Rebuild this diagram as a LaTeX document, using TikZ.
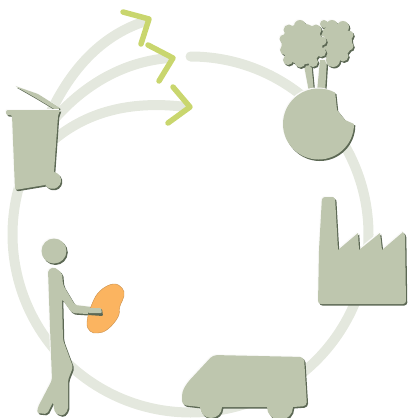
\documentclass[tikz,border=0pt]{standalone}
\usepackage{xcolor}
\usepackage{tikz}
\definecolor{softring}{RGB}{228,232,222}
\definecolor{softsage}{RGB}{190,198,174}
\definecolor{darksage}{RGB}{92,104,84}
\definecolor{softlime}{RGB}{201,214,110}
\definecolor{softorange}{RGB}{251,180,96}
\tikzset{
  ringline/.style={draw=softring,line width=10pt,line cap=round},
  chevron/.style={draw=softlime,line width=5.5pt,line cap=round,miter limit=10},
}
% every icon: light edge, dark edge, then the face
\newcommand{\iconshape}[1]{%
  \fill[white!92!softsage,shift={(-1,-1)}] #1;
  \fill[darksage,shift={(1.3,1.5)}] #1;
  \fill[softsage] #1;}
\begin{document}
\begin{tikzpicture}[x=1pt,y=-1pt,line join=round]
  \useasboundingbox (0,0) rectangle (409,418);
  % cycle
  \draw[ringline] (190.5,56.5) arc[start angle=-90,end angle=200,radius=178];
  \draw[ringline,line cap=butt] (48,118) .. controls (72,65) and (105,34) .. (146,21);
  \draw[ringline,line cap=butt] (50,124) .. controls (80,88) and (120,62) .. (169,58);
  \draw[ringline,line cap=butt] (50,143) .. controls (85,112) and (130,100) .. (186,107);
  \draw[chevron] (123,12) -- (149,19) -- (141,44);
  \draw[chevron] (148,45) -- (173,58) -- (159,81);
  \draw[chevron] (173,87) -- (190,107) -- (168,123);
  % bin
  \iconshape{[rounded corners=1pt] (15,86) -- (38,94) -- (60,108) -- (56,110) -- (36,98) -- cycle}
  \iconshape{(6,110) -- (60,110) -- (58,116) -- (54,172) arc[start angle=-80,end angle=170,radius=8.5]
    -- (45,185) [rounded corners=2pt] -- (15,190) -- (12,115) -- (6,115) -- cycle}
  % trees and globe
  \iconshape{(320,60) -- (317,92) -- (325,92) -- (327,60) -- cycle}
  \iconshape{(335,42) circle[radius=17] (332,26) circle[radius=6] (343,27) circle[radius=6]
    (349,35) circle[radius=4.5] (349,46) circle[radius=4.5] (343,56) circle[radius=5.5] (333,60) circle[radius=7] (324,24) circle[radius=4]}
  \iconshape{(303,60) -- (309,92) -- (314,92) -- (311,60) -- cycle}
  \iconshape{(302,44) circle[radius=20.5] (300,26) circle[radius=6] (289,30) circle[radius=5.5] (284,39) circle[radius=4.5]
    (285,50) circle[radius=5] (288,60) circle[radius=5] (300,62) circle[radius=5.5] (313,62) circle[radius=5] (321,52) circle[radius=5]
    (322,41) circle[radius=4.5] (316,30) circle[radius=5.5]}
  \iconshape{(354,124) arc[start angle=0,end angle=298,radius=35.5] -- (337,110) -- (345,120) -- cycle}
  % factory
  \iconshape{[rounded corners=2pt] (322,197) -- (335,197) [sharp corners] -- (338,250) -- (358,233) -- (359,250) -- (380,233) -- (382,250)
    -- (403,232) [rounded corners=3pt] -- (405,233) -- (406,304) -- (318,304) -- (319,250) -- cycle}
  % van
  \iconshape{[rounded corners=4pt] (213,355) -- (304,357) -- (307,406) [sharp corners] -- (293,407)
    arc[start angle=0,end angle=180,radius=13] -- (222,407) arc[start angle=0,end angle=180,radius=11]
    [rounded corners=4pt] -- (182,405) -- (182,392) -- (187,383) -- cycle}
  % person
  \iconshape{(54,251) circle[radius=12.5]}
  \iconshape{[rounded corners=2pt] (54,267) -- (62,273) -- (63,285) -- (75,305) -- (100,308) -- (102,315) -- (72,313) -- (62,299)
    -- (63,340) -- (73,367) -- (68,380) -- (68,410) -- (63,416) -- (55,413) -- (53,402) -- (47,414) -- (37,413) -- (38,407)
    -- (52,380) -- (50,327) -- (48,270) -- cycle}
  \fill[softorange,draw=softorange!80!black,line width=0.4pt] plot[smooth cycle,tension=0.7] coordinates
    {(113,284) (122,288) (124,296) (120,306) (118,317) (108,329) (98,333) (90,331) (87,322) (92,304) (100,291)};
  \fill[darksage,rounded corners=1pt] (88,309) -- (102,309) -- (103,316) -- (88,315) -- cycle;
  \fill[softsage,rounded corners=1pt] (88,308) -- (101,308) -- (102,313) -- (88,313) -- cycle;
\end{tikzpicture}
\end{document}
